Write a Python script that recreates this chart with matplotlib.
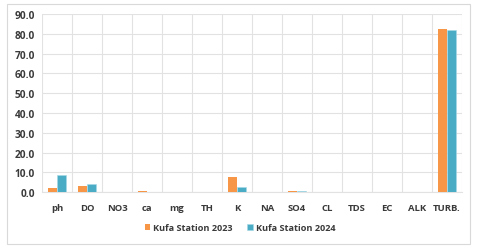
import matplotlib
matplotlib.use("Agg")
import matplotlib.pyplot as plt
import numpy as np
from matplotlib.patches import Rectangle

categories = ["ph", "DO", "NO3", "ca", "mg", "TH", "K", "NA", "SO4", "CL", "TDS", "EC", "ALK", "TURB."]
kufa_2023 = [2.3, 3.2, 0.1, 0.5, 0.2, 0.2, 7.5, 0.3, 0.9, 0.3, 0.1, 0.1, 0.4, 82.5]
kufa_2024 = [8.7, 4.0, 0.1, 0.2, 0.2, 0.1, 2.8, 0.2, 0.6, 0.2, 0.1, 0.1, 0.3, 82.0]
yticks = np.arange(0, 91, 10)

c23 = "#F79646"
c24 = "#4BACC6"
tc = "#3A3A3A"
gc = "#E2E2E2"
plt.rcParams["font.family"] = ["Open Sans", "DejaVu Sans"]

fig = plt.figure(figsize=(4.8, 2.51), dpi=100)
fig.patches.append(Rectangle((7/480, 6/251), 463/480, 240/251, transform=fig.transFigure,
                             fill=False, edgecolor="#D9D9D9", linewidth=0.8))
ax = fig.add_axes([42/480, 1 - 193.3/251, 420/480, (193.3 - 15)/251])

x = np.arange(len(categories))
w = 0.29
ax.bar(x - w/2, kufa_2023, w, color=c23, label="Kufa Station 2023", zorder=3)
ax.bar(x + w/2, kufa_2024, w, color=c24, edgecolor="#A5D8E6", linewidth=0.4,
       label="Kufa Station 2024", zorder=3)

ax.set_xlim(-0.5, len(categories) - 0.5)
ax.set_ylim(0, 90)
ax.set_yticks(yticks)
ax.set_yticklabels([f"{v:.1f}" for v in yticks], fontsize=7.3, fontweight="bold", color=tc)
ax.set_xticks(x)
ax.set_xticklabels(categories, fontsize=6.8, fontweight="bold", color=tc)
ax.set_xticks(np.arange(-0.5, len(categories), 1), minor=True)
ax.tick_params(axis="both", which="both", length=0)
ax.tick_params(axis="x", pad=8)
ax.tick_params(axis="y", pad=5)
ax.grid(axis="y", color=gc, linewidth=0.8, zorder=0)
ax.grid(axis="x", which="minor", color=gc, linewidth=0.8, zorder=0)
for s in ["top", "right", "left"]:
    ax.spines[s].set_visible(False)
ax.spines["bottom"].set_color(gc)

fig.legend(loc="center", bbox_to_anchor=(0.5, 1 - 229/251), ncol=2, frameon=False,
           prop={"size": 6.6, "weight": "bold"}, labelcolor=tc,
           handlelength=0.6, handleheight=0.6, handletextpad=0.3, columnspacing=1.6)

fig.savefig("out.png", dpi=100)
